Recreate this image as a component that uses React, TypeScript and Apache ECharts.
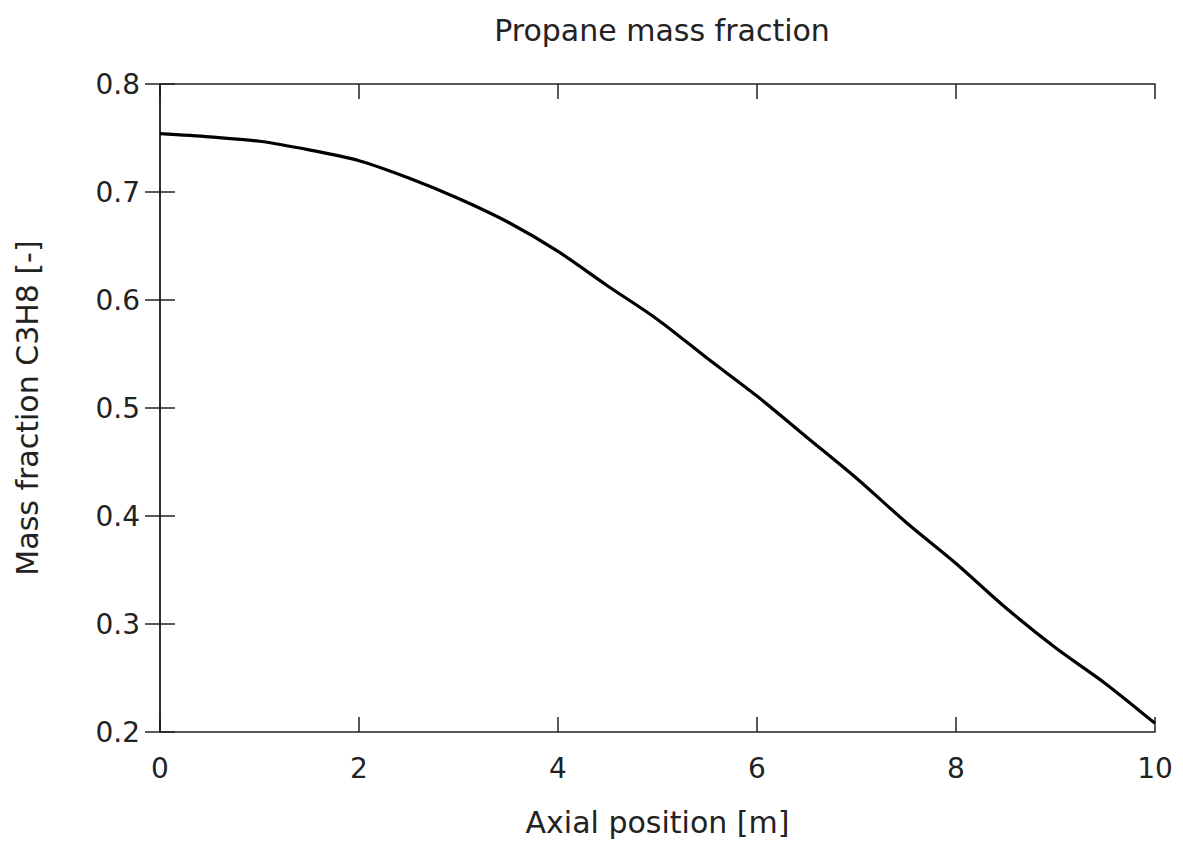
import React, { useEffect, useRef } from "react";
import * as echarts from "echarts";

const xValues = [0, 0.5, 1, 1.5, 2, 2.5, 3, 3.5, 4, 4.5, 5, 5.5, 6, 6.5, 7, 7.5, 8, 8.5, 9, 9.5, 10];
const massFraction = [
  0.754, 0.751, 0.747, 0.739, 0.729, 0.713, 0.694, 0.672, 0.645, 0.613, 0.582,
  0.546, 0.511, 0.473, 0.435, 0.394, 0.356, 0.315, 0.278, 0.245, 0.208,
];
const xTicks = [0, 2, 4, 6, 8, 10];
const yTicks = [0.2, 0.3, 0.4, 0.5, 0.6, 0.7, 0.8];

const FONT = "DejaVu Sans";
const FS = 28;
const FS_T = 30;

export default function App() {
  const ref = useRef<HTMLDivElement>(null);
  useEffect(() => {
    if (!ref.current) return;
    const chart = echarts.init(ref.current, undefined, { renderer: "svg" });
    const axisLine = { show: true, lineStyle: { color: "#222", width: 1.5 } };
    const axisTick = { show: true, inside: true, length: 15, lineStyle: { color: "#222", width: 1.5 } };
    chart.setOption({
      animation: false,
      backgroundColor: "#fff",
      title: {
        text: "Propane mass fraction",
        left: 657,
        top: 10,
        textAlign: "center",
        textStyle: { fontFamily: FONT, fontSize: FS_T, fontWeight: "normal", color: "#222" },
      },
      grid: { left: 160, top: 84, right: 28, bottom: 111, containLabel: false },
      xAxis: [
        {
          type: "value",
          min: 0,
          max: 10,
          interval: 2,
          position: "bottom",
          name: "Axial position [m]",
          nameLocation: "middle",
          nameGap: 75,
          nameTextStyle: { fontFamily: FONT, fontSize: FS_T, color: "#222" },
          axisLine,
          axisTick,
          splitLine: { show: false },
          axisLabel: {
            fontFamily: FONT,
            fontSize: FS,
            color: "#222",
            margin: 22,
            formatter: (v: number) => (xTicks.includes(v) ? String(v) : ""),
          },
        },
        {
          type: "value",
          min: 0,
          max: 10,
          interval: 2,
          position: "top",
          axisLine,
          axisTick,
          splitLine: { show: false },
          axisLabel: { show: false },
        },
      ],
      yAxis: [
        {
          type: "value",
          min: 0.2,
          max: 0.8,
          interval: 0.1,
          position: "left",
          name: "Mass fraction C3H8 [-]",
          nameLocation: "middle",
          nameGap: 118,
          nameRotate: 90,
          nameTextStyle: { fontFamily: FONT, fontSize: FS_T, color: "#222" },
          axisLine,
          axisTick,
          splitLine: { show: false },
          axisLabel: {
            fontFamily: FONT,
            fontSize: FS,
            color: "#222",
            margin: 20,
            formatter: (v: number) => {
              const t = yTicks.find((y) => Math.abs(y - v) < 1e-6);
              return t !== undefined ? t.toFixed(1) : "";
            },
          },
        },
        {
          type: "value",
          min: 0.2,
          max: 0.8,
          interval: 0.1,
          position: "right",
          axisLine,
          axisTick,
          splitLine: { show: false },
          axisLabel: { show: false },
        },
      ],
      series: [
        {
          type: "line",
          data: xValues.map((x, i) => [x, massFraction[i]]),
          showSymbol: false,
          smooth: 0.3,
          lineStyle: { color: "#000", width: 3.2 },
          xAxisIndex: 0,
          yAxisIndex: 0,
        },
      ],
    });
    return () => chart.dispose();
  }, []);
  return (
    <div
      ref={ref}
      style={{ position: "fixed", left: 0, top: 0, width: 1183, height: 843 }}
    />
  );
}
